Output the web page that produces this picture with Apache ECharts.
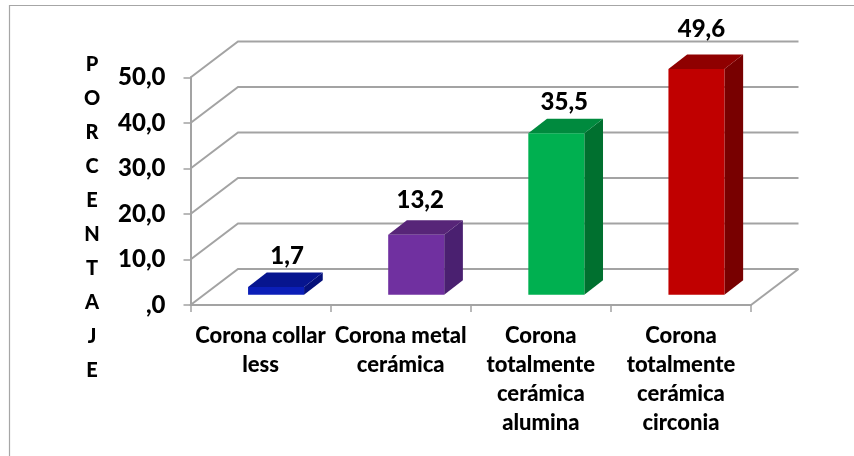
<!DOCTYPE html>
<html>
<head>
<meta charset="utf-8">
<style>
  html, body { margin: 0; padding: 0; background: #fff; }
  #chart { width: 854px; height: 456px; }
</style>
<script src="https://cdn.jsdelivr.net/npm/echarts@6/dist/echarts.min.js"></script>
</head>
<body>
<div id="chart"></div>
<script>
var categories = ['Corona collar\nless', 'Corona metal\ncerámica', 'Corona\ntotalmente\ncerámica\nalumina', 'Corona\ntotalmente\ncerámica\ncirconia'];
var values = [1.7, 13.2, 35.5, 49.6];
var yTicks = [0, 10, 20, 30, 40, 50];
var axisTitle = ['P', 'O', 'R', 'C', 'E', 'N', 'T', 'A', 'J', 'E'];

var frontColors = ['#0b1eb8', '#7030a0', '#00b050', '#c00000'];
var topColors = ['#07158f', '#572578', '#008a3e', '#8f0000'];
var sideColors = ['#05107a', '#4a2070', '#00702f', '#780000'];

// value labels do not sit at a fixed distance above the bars in the original
var labelShiftX = [11, 4, 8, 5];
var labelLift = [16, 20, 16, 25];

var fontName = 'Lato, sans-serif';
var lineColor = '#a3a3a3';

// fake 3D depth, in pixels
var wallDx = 47.5, wallDy = 36;
var barInsetX = 15.5, barInsetY = 10.3;
var barDx = 18.7, barDy = 14.5;
var barWidth = 56;

function fmt(v) {
  return v.toFixed(1).replace('.', ',').replace(/^0/, '');
}

function renderWall(params, api) {
  var cs = params.coordSys;
  var y = api.coord([0, api.value(0)])[1];
  var left = cs.x, right = cs.x + cs.width;
  var children = [{
    type: 'polyline',
    shape: { points: [[left, y], [left + wallDx, y - wallDy], [right + wallDx, y - wallDy]] },
    style: { fill: null, stroke: lineColor, lineWidth: 2 }
  }];
  if (api.value(0) === 0) {
    children.push({
      type: 'line',
      shape: { x1: right, y1: y, x2: right + wallDx, y2: y - wallDy },
      style: { stroke: lineColor, lineWidth: 2 }
    });
  }
  return { type: 'group', children: children };
}

function renderBar(params, api) {
  var i = api.value(0);
  var val = api.value(1);
  var top = api.coord([i, val]);
  var base = api.coord([i, 0]);
  var x0 = top[0] + barInsetX - barWidth / 2;
  var x1 = x0 + barWidth;
  var yt = top[1] - barInsetY;
  var yb = base[1] - barInsetY;
  return {
    type: 'group',
    children: [
      { type: 'polygon', shape: { points: [[x1, yt], [x1 + barDx, yt - barDy], [x1 + barDx, yb - barDy], [x1, yb]] }, style: { fill: sideColors[i] } },
      { type: 'polygon', shape: { points: [[x0, yt], [x0 + barDx, yt - barDy], [x1 + barDx, yt - barDy], [x1, yt]] }, style: { fill: topColors[i] } },
      { type: 'rect', shape: { x: x0, y: yt, width: barWidth, height: yb - yt }, style: { fill: frontColors[i] } },
      {
        type: 'text',
        style: {
          text: fmt(val),
          x: (x0 + x1) / 2 + labelShiftX[i],
          y: yt - barDy - labelLift[i],
          align: 'center',
          verticalAlign: 'middle',
          fill: '#000',
          fontFamily: fontName,
          fontWeight: 900,
          fontSize: 24
        }
      }
    ]
  };
}

var chart = echarts.init(document.getElementById('chart'), null, { renderer: 'canvas' });

chart.setOption({
  animation: false,
  backgroundColor: '#fff',
  title: {
    text: axisTitle.join('\n'),
    left: 87,
    top: 43,
    textAlign: 'center',
    textStyle: { color: '#000', fontFamily: fontName, fontWeight: 900, fontSize: 20, lineHeight: 34 }
  },
  grid: { left: 190.5, right: 103, top: 77.5, bottom: 151 },
  graphic: [{
    type: 'polyline',
    silent: true,
    shape: { points: [[9.5, 456], [9.5, 5.5], [854, 5.5]] },
    style: { fill: null, stroke: '#a6a6a6', lineWidth: 1.2 }
  }],
  xAxis: {
    type: 'category',
    data: categories,
    axisLine: { lineStyle: { color: lineColor, width: 2 } },
    axisTick: { show: true, length: 7, lineStyle: { color: lineColor, width: 1.5 } },
    axisLabel: { color: '#000', fontFamily: fontName, fontWeight: 900, fontSize: 22, lineHeight: 29, margin: 16, interval: 0 }
  },
  yAxis: {
    type: 'value',
    min: 0,
    max: 50,
    interval: 10,
    axisLine: { show: true, lineStyle: { color: lineColor, width: 2 } },
    axisTick: { show: true, length: 7, lineStyle: { color: lineColor, width: 1.5 } },
    splitLine: { show: false },
    axisLabel: { color: '#000', fontFamily: fontName, fontWeight: 900, fontSize: 24, margin: 25, formatter: fmt }
  },
  series: [
    {
      type: 'custom',
      renderItem: renderWall,
      clip: false,
      silent: true,
      encode: { y: 0 },
      data: yTicks.map(function(v) { return [v]; }),
      z: 1
    },
    {
      type: 'custom',
      renderItem: renderBar,
      clip: false,
      encode: { x: 0, y: 1 },
      data: values.map(function(v, i) { return [i, v]; }),
      z: 2
    }
  ]
});
window.addEventListener('resize', function() { chart.resize(); });
</script>
</body>
</html>
